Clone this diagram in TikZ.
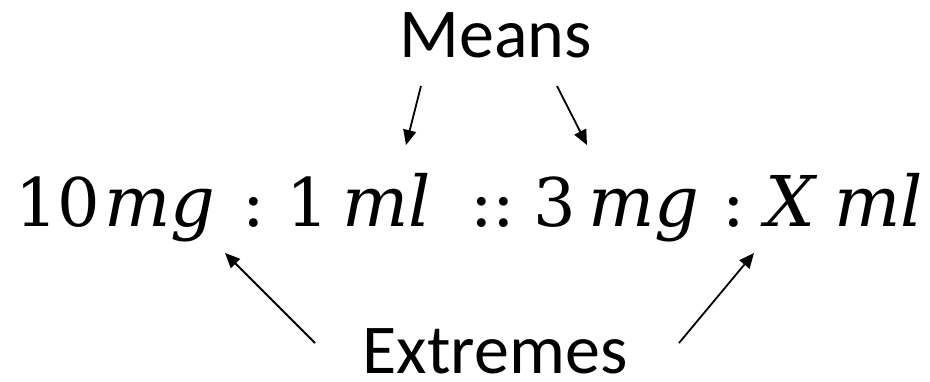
\documentclass[tikz,border=0pt]{standalone}
\usepackage{fontspec}
\setmainfont{DejaVu Serif}
\newfontfamily\labfont{Carlito}
\usetikzlibrary{arrows.meta}
\begin{document}
\begin{tikzpicture}[x=1pt,y=-1pt,
  lbl/.style={font=\labfont\fontsize{70}{80}\selectfont, inner sep=0pt, anchor=base},
  eqp/.style={font=\rmfamily\upshape\fontsize{67}{77}\selectfont, inner sep=0pt, anchor=base west},
  eqi/.style={font=\rmfamily\itshape\fontsize{70}{80}\selectfont, inner sep=0pt, anchor=base west},
  arr/.style={line width=1.8pt, -{Triangle[length=15pt,width=13pt]}}]
\useasboundingbox (0,0) rectangle (930,381);
\node[lbl] (means) at (495.5,57) {Means};
\node[lbl] (extremes) at (495,373) {Extremes};
\node[eqp] (n10) at (15,226) {10};
\node[eqi] (mg1) at (104,226) {mg};
\node[eqp] (c1) at (242,226) {:};
\node[eqp] (n1) at (286,226) {1};
\node[eqi] (ml1) at (342,226) {ml};
\node[eqp] (cc) at (470,226) {::};
\node[eqp] (n3) at (533,226) {3};
\node[eqi] (mg2) at (588,226) {mg};
\node[eqp] (c2) at (722,226) {:};
\node[eqi] (x) at (765,226) {X};
\node[eqi] (ml2) at (834,226) {ml};
\coordinate (m1t) at (421,86);
\coordinate (m1h) at (406,145);
\coordinate (m2t) at (557,86);
\coordinate (m2h) at (587,145);
\coordinate (e1t) at (315,343);
\coordinate (e1h) at (225,253);
\coordinate (e2t) at (679,343);
\coordinate (e2h) at (754,253);
\draw[arr] (m1t) -- (m1h);
\draw[arr] (m2t) -- (m2h);
\draw[arr] (e1t) -- (e1h);
\draw[arr] (e2t) -- (e2h);
\end{tikzpicture}
\end{document}
